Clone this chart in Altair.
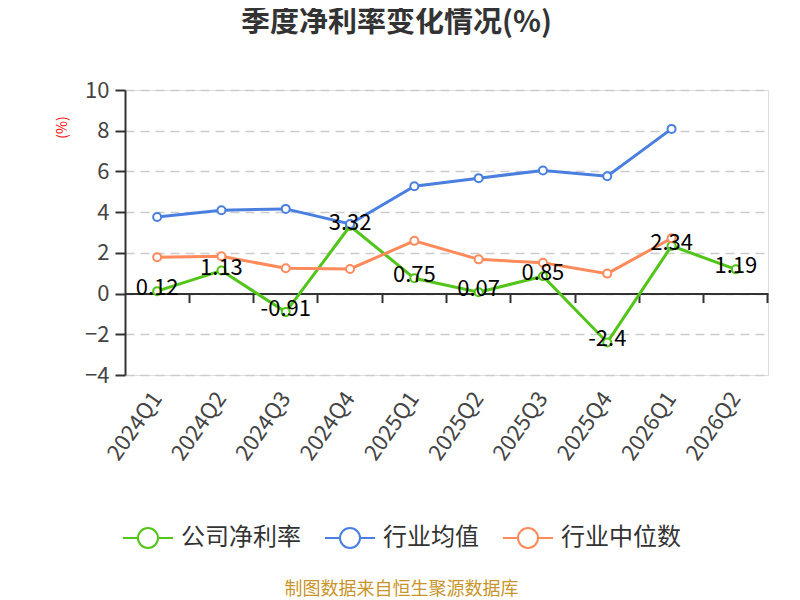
import altair as alt
import pandas as pd

quarters = ["2024Q1", "2024Q2", "2024Q3", "2024Q4", "2025Q1", "2025Q2", "2025Q3", "2025Q4", "2026Q1", "2026Q2"]
company = [0.12, 1.13, -0.91, 3.32, 0.75, 0.07, 0.85, -2.4, 2.34, 1.19]
company_labels = ["0.12", "1.13", "-0.91", "3.32", "0.75", "0.07", "0.85", "-2.4", "2.34", "1.19"]
ind_mean = [3.76, 4.09, 4.16, 3.42, 5.27, 5.67, 6.05, 5.76, 8.09, None]
ind_median = [1.79, 1.83, 1.24, 1.21, 2.59, 1.68, 1.51, 0.98, 2.72, None]
series_names = ["公司净利率", "行业均值", "行业中位数"]
series_colors = ["#52c41a", "#4a7fe0", "#ff8a5b"]
y_ticks = [-4, -2, 0, 2, 4, 6, 8, 10]

rows = []
for name, vals in zip(series_names, [company, ind_mean, ind_median]):
    for i, (q, v) in enumerate(zip(quarters, vals)):
        if v is None:
            continue
        rows.append({"quarter": q, "series": name, "value": v,
                     "label": company_labels[i] if name == series_names[0] else ""})
df = pd.DataFrame(rows)

FONT = "Noto Sans CJK SC"
W, H = 643, 285

xscale = alt.Scale(type="band", domain=quarters, paddingInner=0, paddingOuter=0)
yscale = alt.Scale(domain=[-4, 10], nice=False, zero=False)

x_main = alt.X("quarter:N", scale=xscale, sort=quarters,
               axis=alt.Axis(labelAngle=-55, labelAlign="right", labelBaseline="middle",
                             labelFontSize=22, labelColor="#444", labelFont=FONT,
                             ticks=False, domain=False, grid=False, labelPadding=19,
                             labelOffset=0,
                             title="制图数据来自恒生聚源数据库", titleFont=FONT,
                             titleFontSize=18, titleFontWeight="normal",
                             titleColor="#c8952c", titleX=276, titleY=214,
                             titleAlign="center", titleBaseline="middle", titleAngle=0))
x_zero = alt.X("quarter:N", scale=xscale, sort=quarters,
               axis=alt.Axis(orient="bottom", offset=-H * 4 / 14, bandPosition=1,
                             labels=False, ticks=True, tickSize=9, tickWidth=2,
                             tickColor="#333", domain=True, domainColor="#333",
                             domainWidth=2, grid=False, title=None))
y_enc = alt.Y("value:Q", scale=yscale,
              axis=alt.Axis(values=y_ticks, grid=True, gridDash=[9, 6], gridColor="#cccccc",
                            gridWidth=1.5, domainColor="#333", domainWidth=2,
                            tickColor="#333", tickSize=10, tickWidth=2,
                            labelFontSize=22, labelColor="#444", labelFont=FONT,
                            labelPadding=6,
                            title="(%)", titleColor="red", titleFontSize=14,
                            titleFont=FONT, titleFontWeight="normal",
                            titleX=-63, titleY=37, titleAngle=-90,
                            titleAlign="center", titleBaseline="middle"))
color_enc = alt.Color("series:N", sort=series_names,
                      scale=alt.Scale(domain=series_names, range=series_colors),
                      legend=alt.Legend(title=None, orient="none", direction="horizontal",
                                        legendX=-3, legendY=422,
                                        symbolType="M-1,0L-0.4,0M0.4,0L1,0M0.4,0A0.4,0.4,0,1,1,-0.4,0A0.4,0.4,0,1,1,0.4,0",
                                        symbolSize=2500, symbolStrokeWidth=2,
                                        symbolFillColor="white",
                                        labelFontSize=24, labelFont=FONT, labelColor="#333",
                                        labelOffset=7, columnPadding=20, padding=0))

base = alt.Chart(df)
line = base.mark_line(strokeWidth=3).encode(x=x_main, y=y_enc, color=color_enc)
points = base.mark_point(shape="circle", filled=False, fill="white", fillOpacity=1,
                         size=64, strokeWidth=2, opacity=1).encode(
    x=x_main, y=y_enc, color=color_enc)
text = base.transform_filter(alt.datum.series == series_names[0]).mark_text(
    fontSize=22, font=FONT, color="black", baseline="middle", dy=-3).encode(
    x=x_zero, y=y_enc, text="label:N")

chart = alt.layer(alt.layer(line, points), text).resolve_axis(x="independent").properties(
    width=W, height=H,
    autosize=alt.AutoSizeParams(type="none"),
    padding={"left": 117, "top": 82, "right": 24, "bottom": 225},
    title=alt.TitleParams("季度净利率变化情况(%)", font=FONT, fontSize=29, fontWeight="bold",
                          color="#333", anchor="middle", dx=-50, baseline="bottom", offset=12),
).configure_view(stroke=None).configure(background="white")

chart.save("out.html", embed_options={"renderer": "svg", "actions": False})
